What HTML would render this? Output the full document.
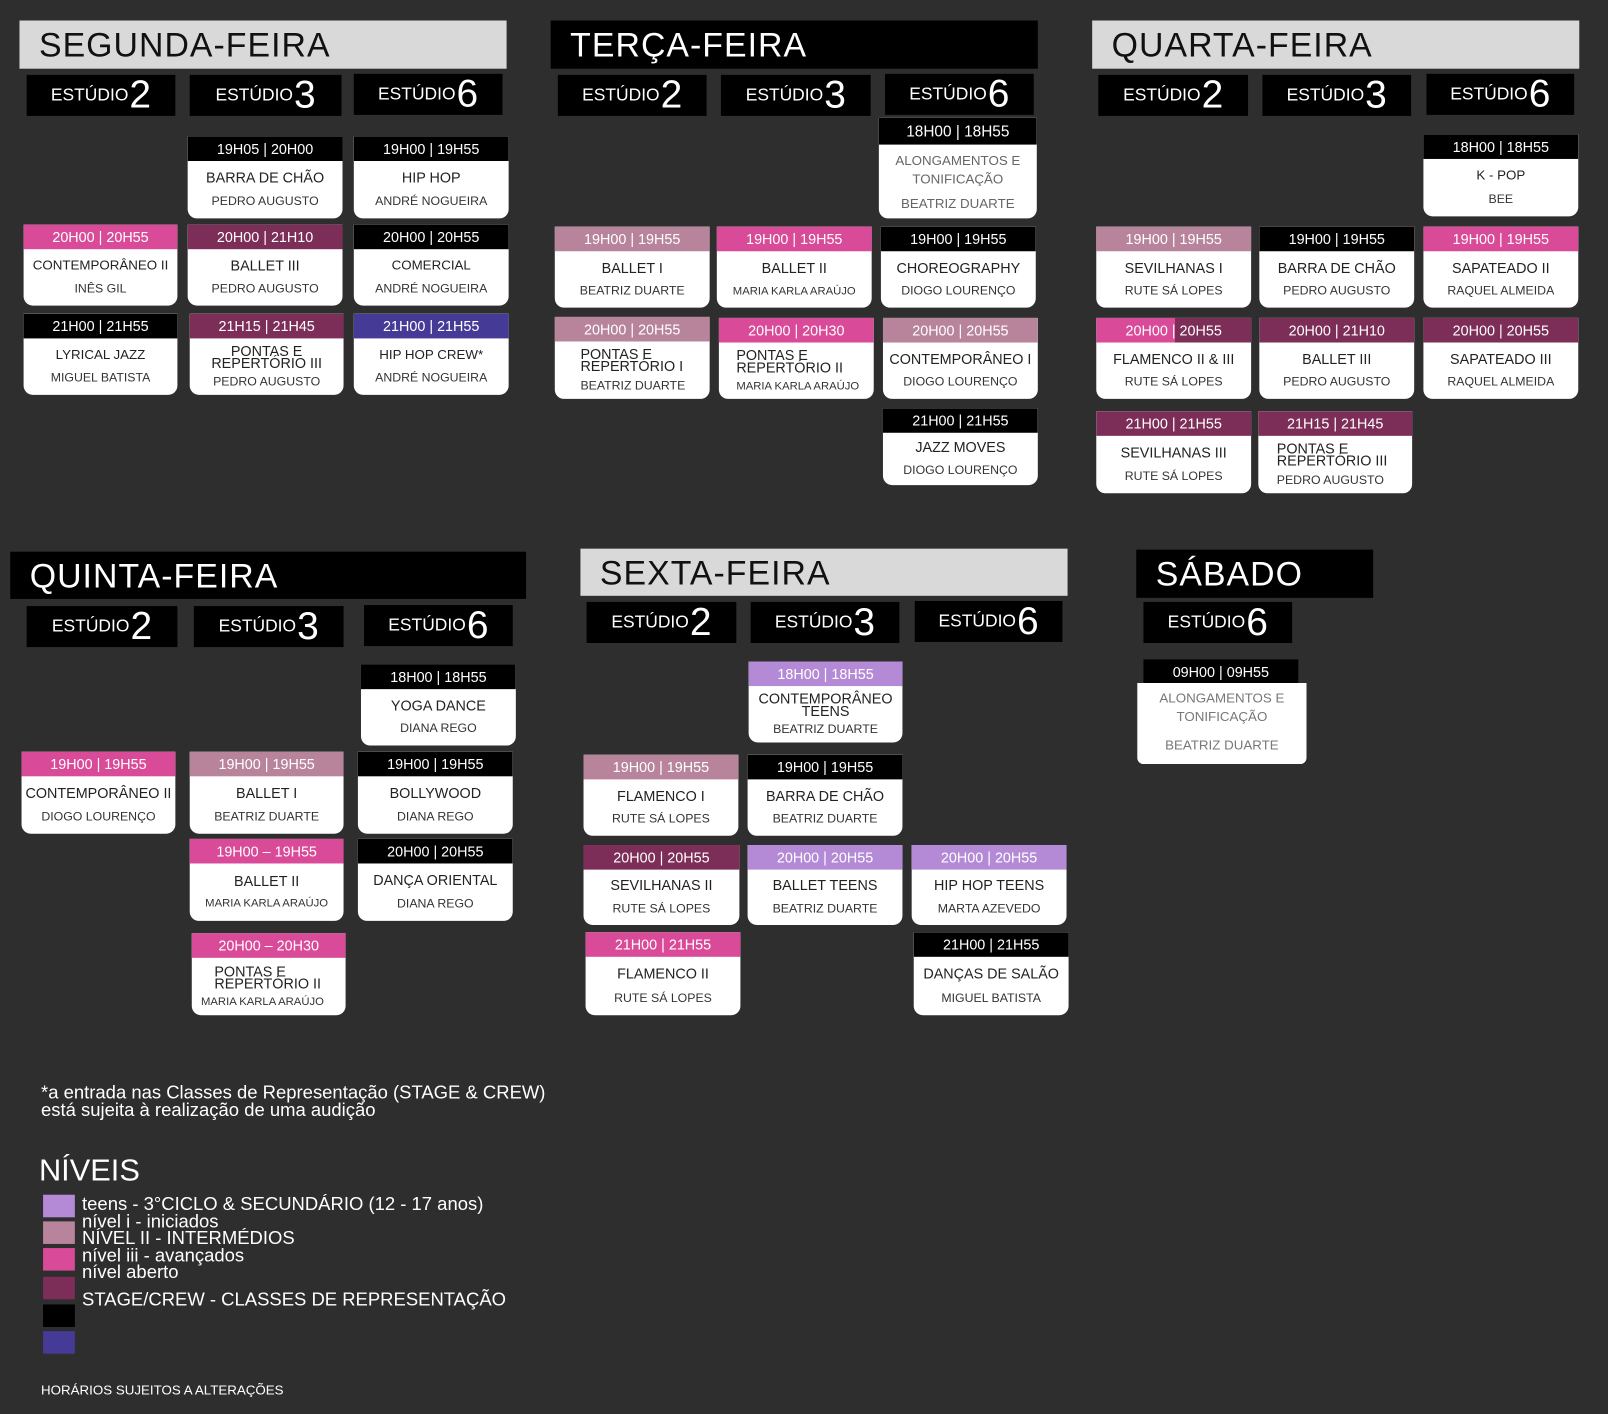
<!DOCTYPE html>
<html><head><meta charset="utf-8">
<style>
html,body{margin:0;padding:0;background:#2e2e2e;width:1608px;height:1414px;overflow:hidden}
#w{position:absolute;left:0;top:0;width:1568px;height:1379px;transform:scale(1.02551);transform-origin:0 0;font-family:"Liberation Sans",sans-serif}
.a{position:absolute}
.tt{position:absolute;font-size:33px;padding-left:19px;box-sizing:border-box;line-height:47px;letter-spacing:1px}
.g{background:#d9d9d9;color:#111}
.b{background:#000;color:#fff}
.s{position:absolute;background:#000;color:#fff;height:40px;display:flex;align-items:center;justify-content:center;font-size:17px}
.s span{font-size:38px;line-height:38px;margin-left:1px}
.c{position:absolute;background:#fff;border-radius:0 0 9px 9px;overflow:hidden;display:flex;flex-direction:column}
.h{height:24px;line-height:25px;color:#fff;text-align:center;font-size:14px;flex:none}
.bd{flex:1;display:flex;flex-direction:column;justify-content:space-evenly;align-items:center;text-align:center;color:#222}
.t{font-size:14px;line-height:12px}
.n{font-size:12px;color:#333}
.k{background:#000}.p{background:#d94a98}.m{background:#b8849c}.d{background:#7d2e58}.v{background:#b48ad6}.i{background:#463a97}
.gr{color:#666}
</style></head><body><div id="w">

<!-- SEGUNDA -->
<div class="tt g" style="left:19px;top:20px;width:475px;height:47px">SEGUNDA-FEIRA</div>
<div class="s" style="left:26px;top:73px;width:145px">ESTÚDIO<span>2</span></div>
<div class="s" style="left:185px;top:73px;width:148px">ESTÚDIO<span>3</span></div>
<div class="s" style="left:345px;top:72px;width:145px">ESTÚDIO<span>6</span></div>

<div class="c" style="left:183px;top:133px;width:151px;height:80px"><div class="h k">19H05 | 20H00</div><div class="bd"><div class="t">BARRA DE CHÃO</div><div class="n">PEDRO AUGUSTO</div></div></div>
<div class="c" style="left:345px;top:133px;width:151px;height:80px"><div class="h k">19H00 | 19H55</div><div class="bd"><div class="t">HIP HOP</div><div class="n">ANDRÉ NOGUEIRA</div></div></div>
<div class="c" style="left:23px;top:219px;width:150px;height:79px"><div class="h p">20H00 | 20H55</div><div class="bd"><div class="t" style="font-size:13px">CONTEMPORÂNEO II</div><div class="n">INÊS GIL</div></div></div>
<div class="c" style="left:183px;top:219px;width:151px;height:79px"><div class="h d">20H00 | 21H10</div><div class="bd"><div class="t">BALLET III</div><div class="n">PEDRO AUGUSTO</div></div></div>
<div class="c" style="left:345px;top:219px;width:151px;height:79px"><div class="h k">20H00 | 20H55</div><div class="bd"><div class="t" style="font-size:13px">COMERCIAL</div><div class="n">ANDRÉ NOGUEIRA</div></div></div>
<div class="c" style="left:23px;top:306px;width:150px;height:79px"><div class="h k">21H00 | 21H55</div><div class="bd"><div class="t" style="font-size:13px">LYRICAL JAZZ</div><div class="n">MIGUEL BATISTA</div></div></div>
<div class="c" style="left:185px;top:306px;width:150px;height:79px"><div class="h d">21H15 | 21H45</div><div class="bd"><div class="t">PONTAS E<br>REPERTÓRIO III</div><div class="n">PEDRO AUGUSTO</div></div></div>
<div class="c" style="left:345px;top:306px;width:151px;height:79px"><div class="h i">21H00 | 21H55</div><div class="bd"><div class="t" style="font-size:13px">HIP HOP CREW*</div><div class="n">ANDRÉ NOGUEIRA</div></div></div>

<!-- TERÇA -->
<div class="tt b" style="left:537px;top:20px;width:475px;height:47px">TERÇA-FEIRA</div>
<div class="s" style="left:544px;top:73px;width:145px">ESTÚDIO<span>2</span></div>
<div class="s" style="left:703px;top:73px;width:146px">ESTÚDIO<span>3</span></div>
<div class="s" style="left:863px;top:72px;width:145px">ESTÚDIO<span>6</span></div>

<div class="c" style="left:857px;top:115px;width:154px;height:98px"><div class="h k" style="height:26px;line-height:27px;font-size:15px">18H00 | 18H55</div><div class="bd"><div class="t gr" style="font-size:13px;line-height:18px">ALONGAMENTOS E<br>TONIFICAÇÃO</div><div class="n gr" style="font-size:13px">BEATRIZ DUARTE</div></div></div>
<div class="c" style="left:541px;top:221px;width:151px;height:79px"><div class="h m">19H00 | 19H55</div><div class="bd"><div class="t">BALLET I</div><div class="n">BEATRIZ DUARTE</div></div></div>
<div class="c" style="left:699px;top:221px;width:151px;height:79px"><div class="h p">19H00 | 19H55</div><div class="bd"><div class="t">BALLET II</div><div class="n" style="font-size:11px">MARIA KARLA ARAÚJO</div></div></div>
<div class="c" style="left:859px;top:221px;width:151px;height:79px"><div class="h k">19H00 | 19H55</div><div class="bd"><div class="t">CHOREOGRAPHY</div><div class="n">DIOGO LOURENÇO</div></div></div>
<div class="c" style="left:541px;top:309px;width:151px;height:80px"><div class="h m">20H00 | 20H55</div><div class="bd" style="align-items:flex-start;padding-left:25px;text-align:left"><div class="t">PONTAS E<br>REPERTÓRIO I</div><div class="n">BEATRIZ DUARTE</div></div></div>
<div class="c" style="left:701px;top:310px;width:151px;height:79px"><div class="h p">20H00 | 20H30</div><div class="bd" style="align-items:flex-start;padding-left:17px;text-align:left"><div class="t">PONTAS E<br>REPERTÓRIO II</div><div class="n" style="font-size:11px">MARIA KARLA ARAÚJO</div></div></div>
<div class="c" style="left:861px;top:310px;width:151px;height:79px"><div class="h m">20H00 | 20H55</div><div class="bd"><div class="t">CONTEMPORÂNEO I</div><div class="n">DIOGO LOURENÇO</div></div></div>
<div class="c" style="left:861px;top:398px;width:151px;height:75px"><div class="h k">21H00 | 21H55</div><div class="bd"><div class="t">JAZZ MOVES</div><div class="n">DIOGO LOURENÇO</div></div></div>

<!-- QUARTA -->
<div class="tt g" style="left:1065px;top:20px;width:475px;height:47px">QUARTA-FEIRA</div>
<div class="s" style="left:1071px;top:73px;width:146px">ESTÚDIO<span>2</span></div>
<div class="s" style="left:1231px;top:73px;width:145px">ESTÚDIO<span>3</span></div>
<div class="s" style="left:1391px;top:72px;width:144px">ESTÚDIO<span>6</span></div>

<div class="c" style="left:1388px;top:131px;width:151px;height:80px"><div class="h k">18H00 | 18H55</div><div class="bd"><div class="t" style="font-size:13px">K - POP</div><div class="n">BEE</div></div></div>
<div class="c" style="left:1069px;top:221px;width:151px;height:79px"><div class="h m">19H00 | 19H55</div><div class="bd"><div class="t">SEVILHANAS I</div><div class="n">RUTE SÁ LOPES</div></div></div>
<div class="c" style="left:1228px;top:221px;width:151px;height:79px"><div class="h k">19H00 | 19H55</div><div class="bd"><div class="t">BARRA DE CHÃO</div><div class="n">PEDRO AUGUSTO</div></div></div>
<div class="c" style="left:1388px;top:221px;width:151px;height:79px"><div class="h p">19H00 | 19H55</div><div class="bd"><div class="t">SAPATEADO II</div><div class="n">RAQUEL ALMEIDA</div></div></div>
<div class="c" style="left:1069px;top:310px;width:151px;height:79px"><div class="h" style="background:linear-gradient(90deg,#d94a98 0 51%,#7d2e58 51%)">20H00 | 20H55</div><div class="bd"><div class="t">FLAMENCO II &amp; III</div><div class="n">RUTE SÁ LOPES</div></div></div>
<div class="c" style="left:1228px;top:310px;width:151px;height:79px"><div class="h d">20H00 | 21H10</div><div class="bd"><div class="t">BALLET III</div><div class="n">PEDRO AUGUSTO</div></div></div>
<div class="c" style="left:1388px;top:310px;width:151px;height:79px"><div class="h d">20H00 | 20H55</div><div class="bd"><div class="t">SAPATEADO III</div><div class="n">RAQUEL ALMEIDA</div></div></div>
<div class="c" style="left:1069px;top:401px;width:151px;height:80px"><div class="h d">21H00 | 21H55</div><div class="bd"><div class="t">SEVILHANAS III</div><div class="n">RUTE SÁ LOPES</div></div></div>
<div class="c" style="left:1227px;top:401px;width:150px;height:80px"><div class="h d">21H15 | 21H45</div><div class="bd" style="align-items:flex-start;padding-left:18px;text-align:left"><div class="t">PONTAS E<br>REPERTÓRIO III</div><div class="n">PEDRO AUGUSTO</div></div></div>

<!-- QUINTA -->
<div class="tt b" style="left:10px;top:538px;width:503px;height:46px">QUINTA-FEIRA</div>
<div class="s" style="left:26px;top:591px;width:147px">ESTÚDIO<span>2</span></div>
<div class="s" style="left:189px;top:591px;width:146px">ESTÚDIO<span>3</span></div>
<div class="s" style="left:355px;top:590px;width:145px">ESTÚDIO<span>6</span></div>

<div class="c" style="left:352px;top:648px;width:151px;height:79px"><div class="h k">18H00 | 18H55</div><div class="bd"><div class="t">YOGA DANCE</div><div class="n">DIANA REGO</div></div></div>
<div class="c" style="left:21px;top:733px;width:150px;height:80px"><div class="h p">19H00 | 19H55</div><div class="bd"><div class="t">CONTEMPORÂNEO II</div><div class="n">DIOGO LOURENÇO</div></div></div>
<div class="c" style="left:185px;top:733px;width:150px;height:80px"><div class="h m">19H00 | 19H55</div><div class="bd"><div class="t">BALLET I</div><div class="n">BEATRIZ DUARTE</div></div></div>
<div class="c" style="left:349px;top:733px;width:151px;height:80px"><div class="h k">19H00 | 19H55</div><div class="bd"><div class="t">BOLLYWOOD</div><div class="n">DIANA REGO</div></div></div>
<div class="c" style="left:185px;top:818px;width:150px;height:80px"><div class="h p">19H00 – 19H55</div><div class="bd"><div class="t">BALLET II</div><div class="n" style="font-size:11px">MARIA KARLA ARAÚJO</div></div></div>
<div class="c" style="left:349px;top:818px;width:151px;height:80px"><div class="h k">20H00 | 20H55</div><div class="bd"><div class="t">DANÇA ORIENTAL</div><div class="n">DIANA REGO</div></div></div>
<div class="c" style="left:187px;top:910px;width:150px;height:80px"><div class="h p">20H00 – 20H30</div><div class="bd" style="align-items:flex-start;padding-left:22px;text-align:left"><div class="t">PONTAS E<br>REPERTÓRIO II</div><div class="n" style="font-size:11px;margin-left:-13px">MARIA KARLA ARAÚJO</div></div></div>

<!-- SEXTA -->
<div class="tt g" style="left:566px;top:535px;width:475px;height:46px">SEXTA-FEIRA</div>
<div class="s" style="left:572px;top:587px;width:146px">ESTÚDIO<span>2</span></div>
<div class="s" style="left:732px;top:587px;width:145px">ESTÚDIO<span>3</span></div>
<div class="s" style="left:892px;top:586px;width:144px">ESTÚDIO<span>6</span></div>

<div class="c" style="left:730px;top:645px;width:150px;height:79px"><div class="h v">18H00 | 18H55</div><div class="bd"><div class="t">CONTEMPORÂNEO<br>TEENS</div><div class="n">BEATRIZ DUARTE</div></div></div>
<div class="c" style="left:569px;top:736px;width:151px;height:79px"><div class="h m">19H00 | 19H55</div><div class="bd"><div class="t">FLAMENCO I</div><div class="n">RUTE SÁ LOPES</div></div></div>
<div class="c" style="left:729px;top:736px;width:151px;height:79px"><div class="h k">19H00 | 19H55</div><div class="bd"><div class="t">BARRA DE CHÃO</div><div class="n">BEATRIZ DUARTE</div></div></div>
<div class="c" style="left:569px;top:824px;width:152px;height:78px"><div class="h d">20H00 | 20H55</div><div class="bd"><div class="t">SEVILHANAS II</div><div class="n">RUTE SÁ LOPES</div></div></div>
<div class="c" style="left:729px;top:824px;width:151px;height:78px"><div class="h v">20H00 | 20H55</div><div class="bd"><div class="t">BALLET TEENS</div><div class="n">BEATRIZ DUARTE</div></div></div>
<div class="c" style="left:889px;top:824px;width:151px;height:78px"><div class="h v">20H00 | 20H55</div><div class="bd"><div class="t">HIP HOP TEENS</div><div class="n">MARTA AZEVEDO</div></div></div>
<div class="c" style="left:571px;top:909px;width:151px;height:81px"><div class="h p">21H00 | 21H55</div><div class="bd"><div class="t">FLAMENCO II</div><div class="n">RUTE SÁ LOPES</div></div></div>
<div class="c" style="left:891px;top:909px;width:151px;height:81px"><div class="h k">21H00 | 21H55</div><div class="bd"><div class="t">DANÇAS DE SALÃO</div><div class="n">MIGUEL BATISTA</div></div></div>

<!-- SÁBADO -->
<div class="tt b" style="left:1108px;top:536px;width:231px;height:47px">SÁBADO</div>
<div class="s" style="left:1115px;top:587px;width:145px">ESTÚDIO<span>6</span></div>
<div class="a" style="left:1115px;top:643px;width:151px;height:24px;background:#000;color:#fff;font-size:14px;text-align:center;line-height:25px">09H00 | 09H55</div>
<div class="a" style="left:1109px;top:666px;width:165px;height:79px;background:#fff;border-radius:0 0 6px 6px;text-align:center;color:#777;font-size:13px">
<div style="margin-top:6px;line-height:18px">ALONGAMENTOS E<br>TONIFICAÇÃO</div><div style="margin-top:11px">BEATRIZ DUARTE</div></div>

<!-- footer -->
<div class="a" style="left:40px;top:1057px;color:#fff;font-size:18px;line-height:17px">*a entrada nas Classes de Representação (STAGE &amp; CREW)<br>está sujeita à realização de uma audição</div>
<div class="a" style="left:38px;top:1125px;color:#fff;font-size:30px;line-height:34px">NÍVEIS</div>
<div class="a v" style="left:42px;top:1165px;width:31px;height:22px"></div>
<div class="a m" style="left:42px;top:1191px;width:31px;height:22px"></div>
<div class="a p" style="left:42px;top:1217px;width:31px;height:22px"></div>
<div class="a d" style="left:42px;top:1245px;width:31px;height:22px"></div>
<div class="a k" style="left:42px;top:1272px;width:31px;height:22px"></div>
<div class="a i" style="left:42px;top:1298px;width:31px;height:22px"></div>
<div class="a" style="left:80px;top:1166px;color:#fff;font-size:18px;line-height:16.5px">teens - 3°CICLO &amp; SECUNDÁRIO (12 - 17 anos)<br>nível i - iniciados<br>NÍVEL II - INTERMÉDIOS<br>nível iii - avançados<br>nível aberto</div>
<div class="a" style="left:80px;top:1257px;color:#fff;font-size:18px">STAGE/CREW - CLASSES DE REPRESENTAÇÃO</div>
<div class="a" style="left:40px;top:1348px;color:#fff;font-size:13px">HORÁRIOS SUJEITOS A ALTERAÇÕES</div>
</div></body></html>
